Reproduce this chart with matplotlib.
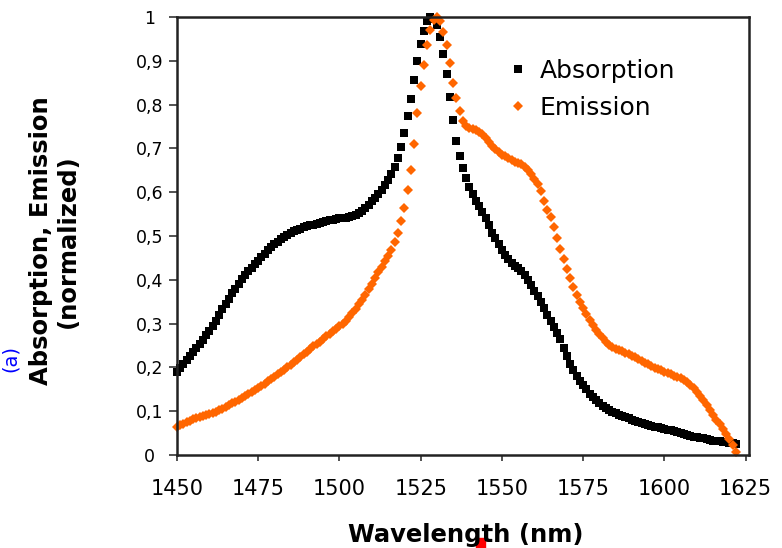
import numpy as np
import matplotlib
matplotlib.use("Agg")
import matplotlib.pyplot as plt
from matplotlib.patches import Rectangle

plt.rcParams['font.family'] = ['DejaVu Sans']

# wavelength grid (nm), 1 nm steps
wl_start = 1450
absorption = [
    0.190, 0.199, 0.208, 0.217, 0.226, 0.235, 0.244, 0.254, 0.263, 0.273,
    0.283, 0.295, 0.307, 0.320, 0.333, 0.345, 0.357, 0.369, 0.380, 0.391,
    0.401, 0.411, 0.420, 0.428, 0.436, 0.444, 0.452, 0.460, 0.467, 0.474,
    0.481, 0.487, 0.493, 0.498, 0.503, 0.507, 0.511, 0.514, 0.517, 0.520,
    0.522, 0.524, 0.526, 0.528, 0.530, 0.532, 0.534, 0.536, 0.537, 0.539,
    0.540, 0.541, 0.542, 0.544, 0.546, 0.549, 0.553, 0.558, 0.564, 0.571,
    0.579, 0.587, 0.596, 0.606, 0.617, 0.628, 0.641, 0.657, 0.678, 0.704,
    0.735, 0.773, 0.813, 0.856, 0.899, 0.938, 0.968, 0.990, 1.000, 0.996,
    0.982, 0.955, 0.916, 0.869, 0.818, 0.765, 0.718, 0.682, 0.655, 0.633,
    0.613, 0.596, 0.581, 0.568, 0.554, 0.541, 0.524, 0.507, 0.495, 0.481,
    0.468, 0.457, 0.447, 0.439, 0.432, 0.427, 0.420, 0.410, 0.400, 0.388,
    0.375, 0.362, 0.349, 0.335, 0.320, 0.305, 0.292, 0.279, 0.264, 0.245,
    0.225, 0.208, 0.193, 0.181, 0.170, 0.160, 0.150, 0.140, 0.132, 0.125,
    0.119, 0.113, 0.108, 0.103, 0.099, 0.095, 0.092, 0.089, 0.087, 0.084,
    0.081, 0.078, 0.076, 0.073, 0.071, 0.069, 0.067, 0.065, 0.063, 0.061,
    0.060, 0.058, 0.056, 0.054, 0.052, 0.050, 0.048, 0.046, 0.044, 0.042,
    0.041, 0.039, 0.038, 0.036, 0.035, 0.033, 0.032, 0.031, 0.030, 0.029,
    0.028, 0.027, 0.026,
]
emission = [
    0.064, 0.068, 0.071, 0.075, 0.078, 0.082, 0.085, 0.087, 0.089, 0.092,
    0.094, 0.097, 0.099, 0.103, 0.106, 0.110, 0.114, 0.118, 0.122, 0.126,
    0.130, 0.135, 0.139, 0.143, 0.148, 0.153, 0.158, 0.163, 0.168, 0.174,
    0.179, 0.184, 0.190, 0.195, 0.201, 0.206, 0.212, 0.218, 0.224, 0.230,
    0.236, 0.242, 0.248, 0.254, 0.259, 0.265, 0.271, 0.276, 0.282, 0.288,
    0.294, 0.300, 0.307, 0.315, 0.324, 0.334, 0.344, 0.355, 0.366, 0.378,
    0.391, 0.404, 0.417, 0.430, 0.443, 0.455, 0.468, 0.486, 0.507, 0.535,
    0.563, 0.605, 0.650, 0.710, 0.780, 0.842, 0.890, 0.935, 0.970, 0.992,
    1.000, 0.990, 0.965, 0.935, 0.896, 0.850, 0.815, 0.785, 0.762, 0.750,
    0.746, 0.744, 0.742, 0.737, 0.732, 0.724, 0.714, 0.705, 0.698, 0.692,
    0.686, 0.682, 0.678, 0.674, 0.670, 0.667, 0.664, 0.658, 0.650, 0.641,
    0.630, 0.618, 0.602, 0.580, 0.560, 0.543, 0.520, 0.495, 0.470, 0.447,
    0.425, 0.404, 0.384, 0.365, 0.350, 0.335, 0.322, 0.309, 0.297, 0.286,
    0.276, 0.267, 0.259, 0.252, 0.247, 0.243, 0.240, 0.237, 0.234, 0.231,
    0.227, 0.223, 0.219, 0.215, 0.211, 0.207, 0.203, 0.199, 0.196, 0.193,
    0.190, 0.187, 0.184, 0.181, 0.178, 0.175, 0.171, 0.166, 0.160, 0.152,
    0.144, 0.135, 0.125, 0.114, 0.103, 0.092, 0.081, 0.070, 0.059, 0.048,
    0.036, 0.022, 0.008,
]
wavelength = np.arange(wl_start, wl_start + len(absorption))

x_ticks = [1450, 1475, 1500, 1525, 1550, 1575, 1600, 1625]
y_ticks = [0, 0.1, 0.2, 0.3, 0.4, 0.5, 0.6, 0.7, 0.8, 0.9, 1]
y_labels = ["0", "0,1", "0,2", "0,3", "0,4", "0,5", "0,6", "0,7", "0,8", "0,9", "1"]

fig = plt.figure(figsize=(7.82, 5.48), dpi=100)
ax = fig.add_axes([0.2263, 0.1697, 0.7315, 0.7993])

ax.plot(wavelength, absorption, 's', color='black', markersize=5.2,
        markeredgewidth=0, label='Absorption', clip_on=False)
ax.plot(wavelength, emission, 'D', color='#FF6600', markersize=4.6,
        markeredgewidth=0, label='Emission', clip_on=False)

ax.set_xlim(1450, 1626)
ax.set_ylim(0, 1)
ax.set_xticks(x_ticks)
ax.set_yticks(y_ticks)
ax.set_yticklabels(y_labels, ha='center')
ax.tick_params(axis='x', labelsize=15, direction='out', length=4.5,
               width=1.2, color='#333333', pad=13)
ax.tick_params(axis='y', labelsize=12.5, direction='out', length=6,
               width=1.2, color='#333333', pad=14)
for sp in ax.spines.values():
    sp.set_linewidth(1.8)
    sp.set_color('#222222')

fig.text(466 / 782, 1 - 535 / 548, 'Wavelength (nm)', fontsize=17.5,
         fontweight='bold', ha='center', va='center')
fig.text(54 / 782, 1 - 241 / 548, 'Absorption, Emission\n(normalized)',
         fontsize=17.5, fontweight='bold', rotation=90, ha='center',
         va='center', multialignment='center', linespacing=1.15)

ax.legend(loc='upper left', bbox_to_anchor=(0.54, 0.955), frameon=False,
          fontsize=18, handletextpad=0.45, markerscale=1.0,
          handlelength=0.8, labelspacing=0.5)

# stray marks visible in the source image
fig.text(0.001, 0.345, '(a)', rotation=90, color='blue', fontsize=14,
         va='center', ha='left')
fig.patches.append(Rectangle((0.609, 0.0), 0.011, 0.018,
                             transform=fig.transFigure, color='red',
                             figure=fig))

fig.savefig('out.png', dpi=100)
